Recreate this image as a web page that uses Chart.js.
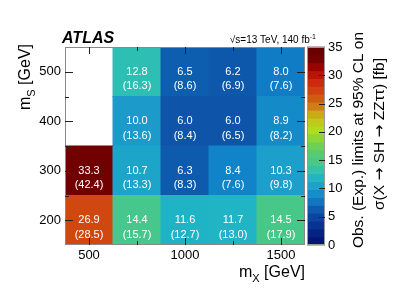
<!DOCTYPE html>
<html>
<head>
<meta charset="utf-8">
<script src="https://cdn.jsdelivr.net/npm/chart.js@4"></script>
<style>
html, body { margin: 0; padding: 0; background: #fff; }
</style>
</head>
<body>
<canvas id="myChart" width="407" height="292"></canvas>
<script>
// bins
const mX = [500, 750, 1000, 1250, 1500];
const mS = [200, 300, 400, 500];

// observed limits [fb], one array per m_S row (null = no point)
const obs200 = [26.9, 14.4, 11.6, 11.7, 14.5];
const obs300 = [33.3, 10.7, 6.3, 8.4, 10.3];
const obs400 = [null, 10.0, 6.0, 6.0, 8.9];
const obs500 = [null, 12.8, 6.5, 6.2, 8.0];

// expected limits [fb]
const exp200 = [28.5, 15.7, 12.7, 13.0, 17.9];
const exp300 = [42.4, 13.3, 8.3, 7.6, 9.8];
const exp400 = [null, 13.6, 8.4, 6.5, 8.2];
const exp500 = [null, 16.3, 8.6, 6.9, 7.6];

const xTicks = [500, 1000, 1500];
const yTicks = [200, 300, 400, 500];
const zMin = 0, zMax = 35;

const FONT = '"Liberation Sans", Arial, Helvetica, sans-serif';

// rainbow-like palette (value, r, g, b)
const stops = [
  [0, 0, 16, 110], [2, 6, 34, 130], [4, 10, 56, 150], [6.2, 14, 88, 172],
  [8.2, 16, 128, 200], [10, 28, 154, 202], [11.5, 30, 178, 200], [13, 48, 192, 176],
  [14.5, 72, 200, 136], [16.5, 90, 204, 110], [18.5, 130, 212, 60], [20.5, 180, 220, 32],
  [22.5, 200, 190, 24], [24, 205, 140, 20], [25.5, 208, 100, 16], [27, 208, 70, 16],
  [28.5, 205, 45, 14], [30, 190, 20, 8], [31.5, 150, 5, 0], [33, 115, 0, 0], [35, 100, 0, 0]
];
function palette(v) {
  v = Math.max(zMin, Math.min(zMax, v));
  for (let i = 1; i < stops.length; i++) {
    if (v <= stops[i][0]) {
      const a = stops[i - 1], b = stops[i];
      const t = (v - a[0]) / (b[0] - a[0]);
      const c = [1, 2, 3].map(k => Math.round(a[k] + t * (b[k] - a[k])));
      return `rgb(${c[0]},${c[1]},${c[2]})`;
    }
  }
  return 'rgb(100,0,0)';
}

const obsRows = [obs200, obs300, obs400, obs500];
const expRows = [exp200, exp300, exp400, exp500];
const halfS = (mS[1] - mS[0]) / 2;
const halfX = (mX[1] - mX[0]) / 2;

const datasets = mS.map((s, j) => ({
  label: 'mS=' + s,
  data: mX.map((x, i) => obsRows[j][i] == null ? null :
    { x: x, y: [s - halfS, s + halfS], obs: obsRows[j][i], exp: expRows[j][i] })
    .filter(p => p !== null),
  backgroundColor: c => (c.raw ? palette(c.raw.obs) : 'transparent'),
  borderWidth: 0,
  inflateAmount: 0.5,
  grouped: false,
  barPercentage: 1,
  categoryPercentage: 1
}));

// draw text made of runs [text, font, dy]
function drawRuns(c, runs, x, y, align) {
  let w = 0;
  runs.forEach(r => { c.font = r[1]; w += c.measureText(r[0]).width; });
  let cx = align === 'right' ? x - w : align === 'center' ? x - w / 2 : x;
  c.textAlign = 'left';
  c.textBaseline = 'alphabetic';
  runs.forEach(r => {
    c.font = r[1];
    c.fillText(r[0], cx, y + r[2]);
    cx += c.measureText(r[0]).width;
  });
}

const atlasDecor = {
  id: 'atlasDecor',
  beforeDraw(chart) {
    const c = chart.ctx;
    c.save();
    c.fillStyle = '#fff';
    c.fillRect(0, 0, chart.width, chart.height);
    c.restore();
  },
  afterDatasetsDraw(chart) {
    const c = chart.ctx;
    const a = chart.chartArea;
    const xs = chart.scales.x, ys = chart.scales.y, zs = chart.scales.z;
    c.save();

    // cell labels
    c.fillStyle = '#fff';
    c.font = '11px ' + FONT;
    c.textAlign = 'center';
    c.textBaseline = 'middle';
    chart.data.datasets.forEach((ds, di) => {
      chart.getDatasetMeta(di).data.forEach((el, i) => {
        const p = el.getCenterPoint();
        const d = ds.data[i];
        c.fillText(d.obs.toFixed(1), p.x, p.y);
        c.fillText('(' + d.exp.toFixed(1) + ')', p.x, p.y + 14.5);
      });
    });

    // frame
    c.strokeStyle = '#888';
    c.lineWidth = 1;
    c.strokeRect(a.left + 0.5, a.top + 0.5, a.right - a.left - 1, a.bottom - a.top - 1);

    // ticks (inside, mirrored)
    c.strokeStyle = '#222';
    c.beginPath();
    for (let v = 250; v <= 1625; v += 250) {
      if (v < xs.min || v > xs.max) continue;
      const L = xTicks.includes(v) ? 7 : 4;
      const px = Math.round(xs.getPixelForValue(v)) + 0.5;
      c.moveTo(px, a.bottom); c.lineTo(px, a.bottom - L);
      c.moveTo(px, a.top); c.lineTo(px, a.top + L);
    }
    for (let v = 150; v <= 550; v += 50) {
      if (v <= ys.min || v >= ys.max) continue;
      const L = yTicks.includes(v) ? 8 : 4;
      const py = Math.round(ys.getPixelForValue(v)) + 0.5;
      c.moveTo(a.left, py); c.lineTo(a.left + L, py);
      c.moveTo(a.right, py); c.lineTo(a.right - L, py);
    }
    c.stroke();

    // colour bar
    const cbL = a.right + 2, cbR = a.right + 20;
    const nBands = 25;
    const step = (zMax - zMin) / nBands;
    for (let i = 0; i < nBands; i++) {
      const v0 = zMin + i * step, v1 = v0 + step;
      const y0 = zs.getPixelForValue(v1), y1 = zs.getPixelForValue(v0);
      c.fillStyle = palette((v0 + v1) / 2);
      c.fillRect(cbL, y0 - 0.3, cbR - cbL, y1 - y0 + 0.6);
    }
    c.strokeStyle = '#999';
    c.strokeRect(cbL + 0.5, a.top + 0.5, cbR - cbL - 1, a.bottom - a.top - 1);
    c.strokeStyle = '#222';
    c.beginPath();
    for (let v = zMin + 5; v < zMax; v += 5) {
      const py = Math.round(zs.getPixelForValue(v)) + 0.5;
      c.moveTo(cbR, py); c.lineTo(cbR - 6, py);
    }
    c.stroke();

    // texts
    c.fillStyle = '#000';
    c.font = 'italic bold 16px ' + FONT;
    c.textAlign = 'left';
    c.textBaseline = 'alphabetic';
    c.fillText('ATLAS', 62, 43);

    drawRuns(c, [['\u221As=13 TeV, 140 fb', '10px ' + FONT, 0], ['-1', '7px ' + FONT, -4]], 316, 42.5, 'right');

    drawRuns(c, [['m', '16px ' + FONT, 0], ['X', '11px ' + FONT, 5], [' [GeV]', '16px ' + FONT, 0]], 305, 277, 'right');

    c.save();
    c.translate(30, 44);
    c.rotate(-Math.PI / 2);
    drawRuns(c, [['m', '16px ' + FONT, 0], ['S', '11px ' + FONT, 5], [' [GeV]', '16px ' + FONT, 0]], 0, 0, 'right');
    c.restore();

    c.save();
    c.translate(363, 140);
    c.rotate(-Math.PI / 2);
    drawRuns(c, [['Obs. (Exp.) limits at 95% CL on', '15.5px ' + FONT, 0]], 0, 0, 'center');
    c.restore();

    const ARROW = '15.5px "DejaVu Sans", ' + FONT;
    c.save();
    c.translate(384, 134);
    c.rotate(-Math.PI / 2);
    drawRuns(c, [
      ['\u03C3(X ', '15.5px ' + FONT, 0], ['\u2192', ARROW, 0],
      [' SH ', '15.5px ' + FONT, 0], ['\u2192', ARROW, 0],
      [' ZZ\u03C4\u03C4) [fb]', '15.5px ' + FONT, 0]
    ], 0, 0, 'center');
    c.restore();

    c.restore();
  }
};

const ctx = document.getElementById('myChart');

const limitChart = new Chart(ctx, {
  type: 'bar',
  data: { datasets: datasets },
  options: {
    responsive: false,
    animation: false,
    events: [],
    layout: { padding: { left: 0, right: 0, top: 47, bottom: 0 } },
    plugins: {
      legend: { display: false },
      tooltip: { enabled: false }
    },
    scales: {
      x: {
        type: 'linear',
        offset: false,
        min: mX[0] - halfX,
        max: mX[mX.length - 1] + halfX,
        afterBuildTicks: s => { s.ticks = xTicks.map(v => ({ value: v })); },
        afterFit: s => { s.height = 47; },
        grid: { display: true, offset: false, drawOnChartArea: false, drawTicks: false, color: 'transparent' },
        border: { display: false },
        ticks: { font: { family: FONT, size: 13 }, color: '#000', padding: 3, maxRotation: 0,
          callback: v => String(v) }
      },
      y: {
        type: 'linear',
        min: mS[0] - halfS,
        max: mS[mS.length - 1] + halfS,
        afterBuildTicks: s => { s.ticks = yTicks.map(v => ({ value: v })); },
        afterFit: s => { s.width = 65; },
        grid: { display: true, drawOnChartArea: false, drawTicks: false, color: 'transparent' },
        border: { display: false },
        ticks: { font: { family: FONT, size: 13 }, color: '#000', padding: 4 }
      },
      z: {
        type: 'linear',
        position: 'right',
        min: zMin,
        max: zMax,
        afterFit: s => { s.width = 102; },
        grid: { display: true, drawOnChartArea: false, drawTicks: true, tickLength: 20, color: 'transparent' },
        border: { display: false },
        ticks: { stepSize: 5, font: { family: FONT, size: 13 }, color: '#000', padding: 3 }
      }
    }
  },
  plugins: [atlasDecor]
});
</script>
</body>
</html>
